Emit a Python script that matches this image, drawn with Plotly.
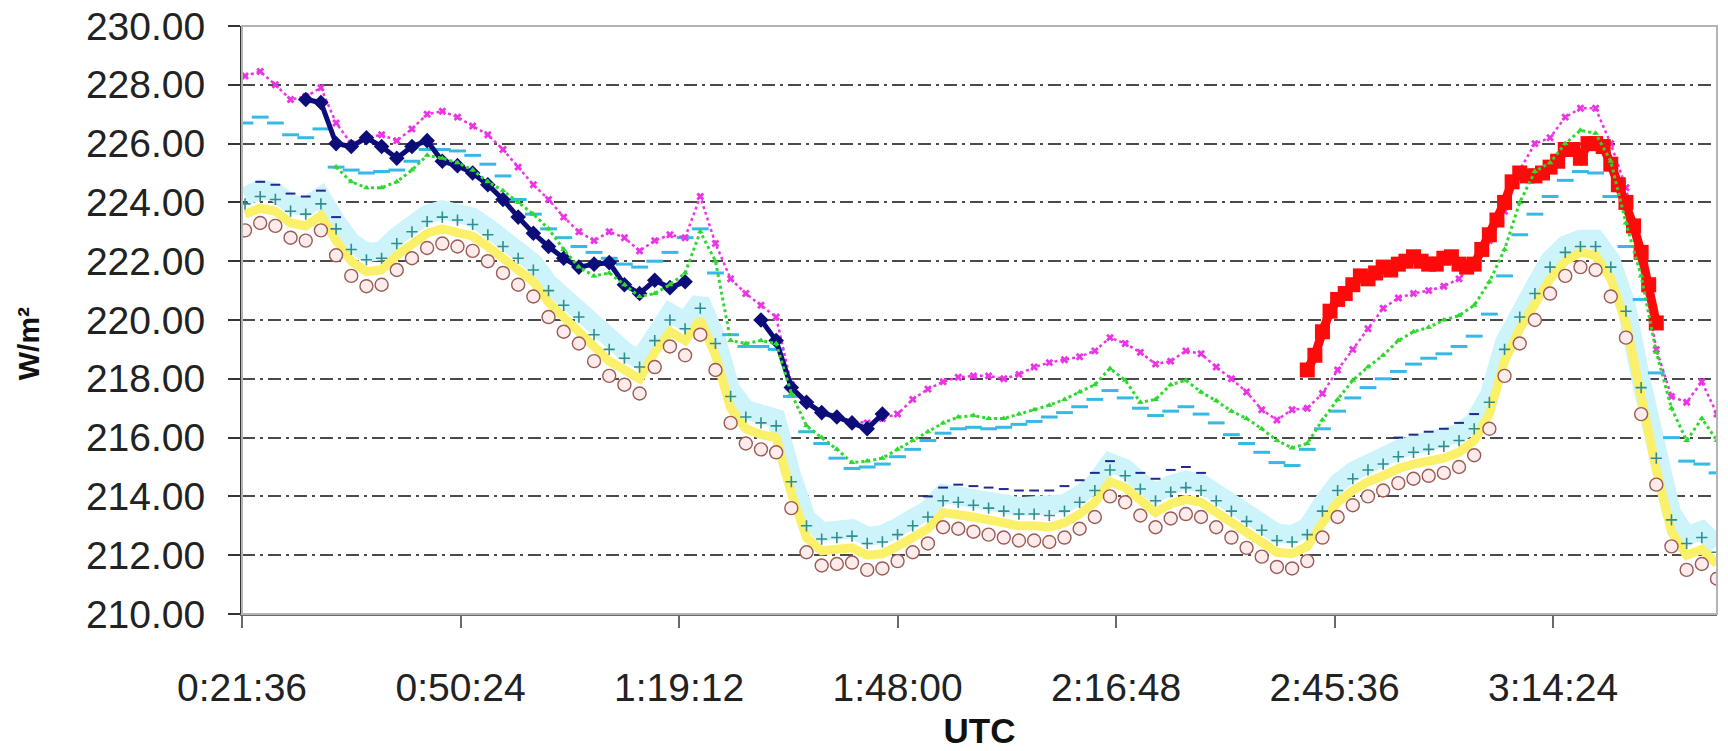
import plotly.graph_objects as go

# ---------------- data (minutes after 0:00 UTC) ----------------
TIME_MIN = list(range(22, 217, 2))          # 2-minute sampling grid, 0:22 .. 3:36
DIAMOND_TIME = list(range(30, 107, 2))      # navy diamond series
RED_TIME = list(range(162, 209, 1))         # red square series (1-minute)

TICK_VALS = [21.6, 50.4, 79.2, 108.0, 136.8, 165.6, 194.4]
TICK_TEXT = ["0:21:36", "0:50:24", "1:19:12", "1:48:00", "2:16:48", "2:45:36", "3:14:24"]
Y_TICKS = [210, 212, 214, 216, 218, 220, 222, 224, 226, 228, 230]

circles = [223.05, 223.3, 223.2, 222.8, 222.7, 223.05, 222.2, 221.5, 221.15, 221.2,
           221.7, 222.1, 222.45, 222.6, 222.5, 222.35, 222.0, 221.6, 221.2, 220.8,
           220.1, 219.6, 219.2, 218.6, 218.1, 217.8, 217.5, 218.4, 219.1, 218.8,
           219.5, 218.3, 216.5, 215.8, 215.6, 215.5, 213.6, 212.1, 211.65, 211.7,
           211.75, 211.5, 211.55, 211.8, 212.1, 212.4, 212.95, 212.9, 212.8, 212.7,
           212.6, 212.5, 212.5, 212.45, 212.6, 212.9, 213.3, 214.0, 213.8, 213.35,
           212.95, 213.25, 213.4, 213.3, 212.95, 212.6, 212.25, 211.95, 211.6, 211.55,
           211.8, 212.6, 213.3, 213.7, 214.0, 214.2, 214.45, 214.6, 214.7, 214.8,
           215.0, 215.4, 216.3, 218.1, 219.2, 220.0, 220.9, 221.5, 221.8, 221.7,
           220.8, 219.4, 216.8, 214.4, 212.3, 211.5, 211.7, 211.2]

yellow = [223.6, 223.8, 223.7, 223.3, 223.2, 223.55, 222.7, 222.0, 221.65, 221.7,
          222.2, 222.6, 222.95, 223.1, 223.0, 222.85, 222.5, 222.1, 221.7, 221.3,
          220.6, 220.1, 219.7, 219.1, 218.6, 218.3, 218.0, 218.9, 219.6, 219.3,
          220.0, 218.8, 217.0, 216.3, 216.1, 216.0, 214.1, 212.6, 212.15, 212.2,
          212.25, 212.0, 212.05, 212.3, 212.6, 212.9, 213.45, 213.4, 213.3, 213.2,
          213.1, 213.0, 213.0, 212.95, 213.1, 213.4, 213.8, 214.5, 214.3, 213.85,
          213.45, 213.75, 213.9, 213.8, 213.45, 213.1, 212.75, 212.45, 212.1, 212.05,
          212.3, 213.1, 213.8, 214.2, 214.5, 214.7, 214.95, 215.1, 215.2, 215.3,
          215.5, 215.9, 216.8, 218.6, 219.7, 220.5, 221.4, 222.0, 222.3, 222.2,
          221.4, 219.9, 217.3, 214.9, 212.8, 212.0, 212.2, 211.7]

teal = [223.95, 224.2, 224.1, 223.7, 223.6, 223.95, 223.1, 222.4, 222.05, 222.1,
        222.6, 223.0, 223.35, 223.5, 223.4, 223.25, 222.9, 222.5, 222.1, 221.7,
        221.0, 220.5, 220.1, 219.5, 219.0, 218.7, 218.4, 219.3, 220.0, 219.7,
        220.4, 219.2, 217.4, 216.7, 216.5, 216.4, 214.5, 213.0, 212.55, 212.6,
        212.65, 212.4, 212.45, 212.7, 213.0, 213.3, 213.85, 213.8, 213.7, 213.6,
        213.5, 213.4, 213.4, 213.35, 213.5, 213.8, 214.2, 214.9, 214.7, 214.25,
        213.85, 214.15, 214.3, 214.2, 213.85, 213.5, 213.15, 212.85, 212.5, 212.45,
        212.7, 213.5, 214.2, 214.6, 214.9, 215.1, 215.35, 215.5, 215.6, 215.7,
        215.9, 216.3, 217.2, 219.0, 220.1, 220.9, 221.8, 222.3, 222.5, 222.5,
        221.8, 220.3, 217.7, 215.3, 213.2, 212.4, 212.6, 212.1]

light_cyan = [224.2, 224.45, 224.35, 223.95, 223.85, 224.2, 223.35, 222.65, 222.3, 222.35,
              222.85, 223.25, 223.6, 223.75, 223.65, 223.5, 223.15, 222.75, 222.35, 221.95,
              221.25, 220.75, 220.35, 219.75, 219.25, 218.95, 218.65, 219.55, 220.25, 219.95,
              220.65, 219.45, 217.65, 216.95, 216.75, 216.65, 214.75, 213.25, 212.8, 212.85,
              212.9, 212.65, 212.7, 212.95, 213.25, 213.55, 214.1, 214.05, 213.95, 213.85,
              213.75, 213.65, 213.65, 213.6, 213.75, 214.05, 214.45, 215.15, 214.95, 214.5,
              214.1, 214.4, 214.55, 214.45, 214.1, 213.75, 213.4, 213.1, 212.75, 212.7,
              212.95, 213.75, 214.45, 214.85, 215.15, 215.35, 215.6, 215.75, 215.85, 215.95,
              216.15, 216.55, 217.45, 219.25, 220.35, 221.15, 222.05, 222.55, 222.75, 222.75,
              222.05, 220.55, 217.95, 215.55, 213.45, 212.65, 212.85, 212.35]

navy_small = [None, 224.7, 224.6, 224.3, 224.2, 224.4, 223.5, None, None, None,
              None, None, None, None, None, None, None, None, None, None,
              None, None, None, None, None, None, None, None, None, None,
              None, None, None, None, None, None, None, None, None, None,
              None, None, None, None, None, 214.0, 214.3, 214.4, 214.35, 214.3,
              214.25, 214.2, 214.2, 214.2, 214.35, 214.55, 214.8, 215.2, None, 214.8,
              214.6, 214.9, 215.0, 214.8, None, None, None, None, None, None,
              None, None, None, None, None, None, 216.0, 216.1, 216.2, 216.3,
              216.5, 216.8, None, None, None, None, None, None, None, None,
              None, None, None, None, None, None, None, None]

green = [None, None, None, None, None, None, 225.2, 224.7, 224.5, 224.5,
         224.7, 225.1, 225.6, 225.5, 225.35, 225.1, 224.7, 224.4, 224.0, 223.6,
         223.1, 222.4, 221.8, 221.5, 221.6, 221.2, 220.8, 220.9, 221.2, 221.6,
         223.0, 222.0, 219.3, 219.2, 219.3, 219.2, 217.5, 216.4, 216.0, 215.6,
         215.15, 215.2, 215.3, 215.6, 215.9, 216.2, 216.5, 216.7, 216.75, 216.65,
         216.65, 216.8, 216.95, 217.1, 217.3, 217.55, 217.8, 218.35, 217.95, 217.2,
         217.3, 217.8, 217.95, 217.55, 217.25, 216.9, 216.65, 216.3, 215.9, 215.65,
         215.8, 216.6, 217.3, 217.95, 218.4, 218.8, 219.3, 219.6, 219.75, 220.0,
         220.15, 220.5, 221.3, 222.4, 224.0, 225.05, 225.35, 226.0, 226.45, 226.35,
         225.4, 223.3, 221.5, 218.9, 217.0, 215.9, 216.65, 215.9]

cyan_rect = [226.7, 226.9, 226.7, 226.3, 226.2, 226.5, 225.2, 225.1, 225.0, 225.05,
             225.1, 225.4, 225.8, 225.8, 225.75, 225.6, 225.3, 224.9, 224.1, 223.6,
             223.1, 222.8, 222.5, 222.3, 222.1, 221.9, 221.8, 222.0, 222.3, 222.8,
             223.1, 221.6, 219.5, 219.1, 219.1, 219.0, 217.4, 216.2, 215.8, 215.3,
             214.95, 215.0, 215.1, 215.35, 215.6, 215.9, 216.15, 216.3, 216.35, 216.3,
             216.35, 216.45, 216.55, 216.7, 216.85, 217.05, 217.3, 217.6, 217.35, 217.0,
             216.75, 216.9, 217.05, 216.8, 216.5, 216.1, 215.8, 215.5, 215.15, 215.05,
             215.6, 216.3, 216.9, 217.35, 217.7, 218.0, 218.25, 218.5, 218.7, 218.85,
             219.1, 219.45, 220.2, 221.5, 222.9, 223.6, 224.2, 224.75, 225.05, 225.0,
             224.2, 222.5, 220.7, 218.2, 216.0, 215.2, 215.1, 214.8]

magenta = [228.3, 228.45, 228.0, 227.5, 227.6, 227.9, 226.7, 226.0, 226.2, 226.3,
           226.1, 226.5, 227.0, 227.1, 226.9, 226.6, 226.3, 225.8, 225.2, 224.6,
           224.1, 223.5, 223.0, 222.7, 223.0, 222.8, 222.35, 222.7, 222.9, 222.8,
           224.2, 222.6, 221.4, 220.9, 220.5, 220.1, 217.8, 217.2, 216.9, 216.7,
           216.55, 216.5, 216.65, 216.8, 217.3, 217.65, 217.9, 218.05, 218.1, 218.1,
           218.0, 218.15, 218.4, 218.55, 218.65, 218.75, 218.95, 219.4, 219.2, 218.9,
           218.5, 218.6, 218.95, 218.85, 218.4, 218.0, 217.55, 216.95, 216.6, 216.95,
           217.0, 217.5, 218.3, 219.0, 219.7, 220.4, 220.75, 220.9, 221.0, 221.15,
           221.4, 222.0, 222.7, 223.7, 225.1, 226.0, 226.2, 226.9, 227.2, 227.2,
           226.0, 224.5, 222.0, 219.0, 217.4, 217.2, 217.9, 216.8]

navy_diamond = [227.5, 227.4, 226.0, 225.9, 226.2, 225.9, 225.5, 225.9, 226.1, 225.4,
                225.25, 225.0, 224.6, 224.1, 223.5, 222.95, 222.5, 222.1, 221.8, 221.9,
                221.95, 221.2, 220.9, 221.35, 221.1, 221.3, None, None, None, None,
                220.0, 219.3, 217.7, 217.2, 216.85, 216.7, 216.5, 216.3, 216.8]

red_square = [218.3, 218.8, 219.6, 220.3, 220.7, 220.9, 221.2, 221.5, 221.4, 221.6,
              221.8, 221.7, 221.9, 222.0, 222.15, 222.0, 221.9, 221.9, 222.1, 222.15,
              221.9, 221.8, 221.9, 222.4, 222.9, 223.4, 224.0, 224.7, 225.0, 224.9,
              224.9, 225.0, 225.2, 225.4, 225.8, 225.8, 225.5, 226.0, 226.0, 225.9,
              225.3, 224.6, 224.0, 223.2, 222.3, 221.2, 219.9]

# ---------------- figure ----------------
FONT = "Liberation Sans, Arial, sans-serif"
fig = go.Figure()

fig.add_trace(go.Scatter(x=TIME_MIN, y=light_cyan, mode="lines",
                         line=dict(color="#cdf3fb", width=19),
                         hoverinfo="skip", showlegend=False))
fig.add_trace(go.Scatter(x=TIME_MIN, y=yellow, mode="lines",
                         line=dict(color="#fbf06a", width=9),
                         showlegend=False))
fig.add_trace(go.Scatter(x=TIME_MIN, y=navy_small, mode="markers",
                         marker=dict(symbol="line-ew", size=7, color="#1f2a8c",
                                     line=dict(color="#1f2a8c", width=2)),
                         showlegend=False))
fig.add_trace(go.Scatter(x=TIME_MIN, y=teal, mode="markers",
                         marker=dict(symbol="cross-thin-open", size=8, color="#2f8f8f",
                                     line=dict(color="#2f8f8f", width=1.6)),
                         showlegend=False))
fig.add_trace(go.Scatter(x=TIME_MIN, y=circles, mode="markers",
                         marker=dict(symbol="circle", size=13, color="#fdeceb",
                                     line=dict(color="#9b5b55", width=1.4)),
                         showlegend=False))
fig.add_trace(go.Scatter(x=TIME_MIN, y=cyan_rect, mode="markers",
                         marker=dict(symbol="line-ew", size=12, color="#37b9e6",
                                     line=dict(color="#37b9e6", width=3)),
                         showlegend=False))
fig.add_trace(go.Scatter(x=TIME_MIN, y=magenta, mode="lines+markers",
                         line=dict(color="#ec34e6", width=2.5, dash="dot"),
                         marker=dict(symbol="x", size=7, color="#ec34e6"),
                         showlegend=False))
fig.add_trace(go.Scatter(x=DIAMOND_TIME, y=navy_diamond, mode="lines+markers",
                         line=dict(color="#0d0d7a", width=5),
                         marker=dict(symbol="diamond", size=12, color="#0d0d7a"),
                         showlegend=False))
fig.add_trace(go.Scatter(x=RED_TIME, y=red_square, mode="lines+markers",
                         line=dict(color="#ff0a0a", width=9),
                         marker=dict(symbol="square", size=15, color="#ff0a0a"),
                         showlegend=False))
fig.add_trace(go.Scatter(x=TIME_MIN, y=green, mode="lines+markers",
                         line=dict(color="#2fd82f", width=3, dash="dot"),
                         marker=dict(symbol="triangle-up", size=6, color="#2fd82f"),
                         showlegend=False))

fig.update_layout(
    width=1728, height=751,
    margin=dict(l=242, r=11, t=26, b=137, autoexpand=False),
    paper_bgcolor="white", plot_bgcolor="white",
    font=dict(family=FONT, size=39, color="#222222"),
    showlegend=False,
    shapes=[dict(type="rect", xref="x domain", yref="y domain", x0=0, x1=1, y0=0, y1=1,
                 line=dict(color="#b4b4b4", width=2), layer="above")],
    annotations=[dict(text="<b>W/m²</b>", textangle=-90, xref="paper", yref="paper",
                      x=-0.145, y=0.459, xanchor="center", yanchor="middle",
                      showarrow=False, font=dict(family=FONT, size=30, color="#111111"))],
)
fig.update_xaxes(
    range=[21.6, 216.0], tickmode="array", tickvals=TICK_VALS, ticktext=TICK_TEXT,
    automargin=False,
    showgrid=False, zeroline=False, showline=True, linecolor="#6a6a6a", linewidth=2,
    ticks="outside", ticklen=12, tickwidth=2, tickcolor="#6a6a6a", ticklabelstandoff=26,
    tickfont=dict(family=FONT, size=39, color="#222222"),
    title=dict(text="<b>UTC</b>", font=dict(family=FONT, size=35, color="#111111"), standoff=11),
)
fig.update_yaxes(
    range=[210, 230], tickmode="array", tickvals=Y_TICKS,
    ticktext=[f"{v:.2f}" for v in Y_TICKS], automargin=False, ticklabeloverflow="allow",
    showgrid=True, gridcolor="#4a4a4a", gridwidth=2, griddash="13px,5px,3px,5px",
    zeroline=False, showline=True, linecolor="#333333", linewidth=2,
    ticks="outside", ticklen=12, tickwidth=2, tickcolor="#333333", ticklabelstandoff=15,
    tickfont=dict(family=FONT, size=39, color="#222222"),
)

# remove the default 8px page margin so the figure fills the window exactly
fig.write_html("out.html", config={"displayModeBar": False},
               post_script="document.body.style.margin='0px';")
